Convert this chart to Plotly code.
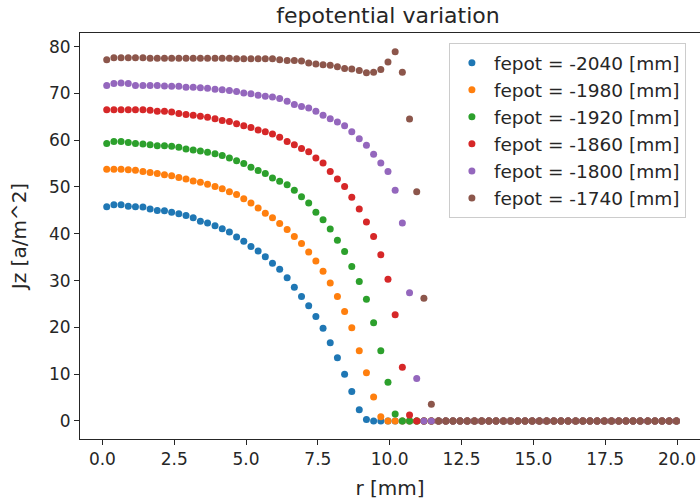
import plotly.graph_objects as go

# radial sample positions [mm]
r_mm = [
    0.15, 0.40, 0.65, 0.90, 1.15, 1.41, 1.66, 1.91, 2.16, 2.41,
    2.66, 2.91, 3.16, 3.41, 3.66, 3.92, 4.17, 4.42, 4.67, 4.92,
    5.17, 5.42, 5.67, 5.92, 6.17, 6.43, 6.68, 6.93, 7.18, 7.43,
    7.68, 7.93, 8.18, 8.43, 8.68, 8.94, 9.19, 9.44, 9.69, 9.94,
    10.19, 10.44, 10.69, 10.94, 11.19, 11.45, 11.70, 11.95, 12.20, 12.45,
    12.70, 12.95, 13.20, 13.45, 13.70, 13.96, 14.21, 14.46, 14.71, 14.96,
    15.21, 15.46, 15.71, 15.96, 16.21, 16.47, 16.72, 16.97, 17.22, 17.47,
    17.72, 17.97, 18.22, 18.47, 18.72, 18.98, 19.23, 19.48, 19.73, 19.98,
]

fepot_labels = [-2040, -1980, -1920, -1860, -1800, -1740]

jz_m2040 = [
    45.8, 46.2, 46.2, 45.9, 45.8, 45.7, 45.3, 45.0, 44.9, 44.6,
    44.3, 43.9, 43.4, 42.7, 42.3, 41.7, 41.1, 40.4, 39.3, 38.4,
    37.3, 36.3, 35.1, 33.7, 32.4, 30.6, 28.6, 26.6, 24.6, 22.3,
    19.8, 16.7, 13.5, 10.0, 6.3, 2.4, 0.3, 0.0, 0.0, 0.0,
    0.0, 0.0, 0.0, 0.0, 0.0, 0.0, 0.0, 0.0, 0.0, 0.0,
    0.0, 0.0, 0.0, 0.0, 0.0, 0.0, 0.0, 0.0, 0.0, 0.0,
    0.0, 0.0, 0.0, 0.0, 0.0, 0.0, 0.0, 0.0, 0.0, 0.0,
    0.0, 0.0, 0.0, 0.0, 0.0, 0.0, 0.0, 0.0, 0.0, 0.0,
]
jz_m1980 = [
    53.8, 53.8, 53.8, 53.7, 53.6, 53.3, 53.1, 52.9, 52.6, 52.4,
    52.0, 51.7, 51.3, 51.0, 50.6, 50.1, 49.6, 49.0, 48.4, 47.5,
    46.6, 45.5, 44.4, 43.4, 42.2, 40.9, 39.4, 37.9, 36.1, 34.2,
    32.0, 29.5, 26.6, 23.4, 19.9, 15.0, 10.3, 5.1, 0.9, 0.0,
    0.0, 0.0, 0.0, 0.0, 0.0, 0.0, 0.0, 0.0, 0.0, 0.0,
    0.0, 0.0, 0.0, 0.0, 0.0, 0.0, 0.0, 0.0, 0.0, 0.0,
    0.0, 0.0, 0.0, 0.0, 0.0, 0.0, 0.0, 0.0, 0.0, 0.0,
    0.0, 0.0, 0.0, 0.0, 0.0, 0.0, 0.0, 0.0, 0.0, 0.0,
]
jz_m1920 = [
    59.3, 59.7, 59.7, 59.5, 59.3, 59.2, 59.0, 58.8, 58.8, 58.7,
    58.5, 58.1, 57.9, 57.7, 57.4, 57.1, 56.7, 56.2, 55.6, 55.0,
    54.2, 53.5, 52.9, 51.9, 51.2, 50.5, 49.3, 47.9, 46.6, 44.6,
    43.0, 41.0, 38.6, 36.2, 33.0, 29.8, 26.0, 21.0, 15.0, 8.3,
    1.5, 0.0, 0.0, 0.0, 0.0, 0.0, 0.0, 0.0, 0.0, 0.0,
    0.0, 0.0, 0.0, 0.0, 0.0, 0.0, 0.0, 0.0, 0.0, 0.0,
    0.0, 0.0, 0.0, 0.0, 0.0, 0.0, 0.0, 0.0, 0.0, 0.0,
    0.0, 0.0, 0.0, 0.0, 0.0, 0.0, 0.0, 0.0, 0.0, 0.0,
]
jz_m1860 = [
    66.5, 66.5, 66.5, 66.5, 66.5, 66.5, 66.4, 66.2, 66.2, 66.0,
    65.7, 65.5, 65.3, 65.1, 64.9, 64.6, 64.2, 64.0, 63.5, 63.1,
    62.7, 62.2, 61.8, 61.3, 60.6, 59.7, 59.0, 58.2, 57.5, 56.2,
    55.1, 53.3, 51.7, 50.1, 47.8, 45.3, 42.5, 39.4, 35.5, 30.3,
    22.7, 11.5, 1.3, 0.0, 0.0, 0.0, 0.0, 0.0, 0.0, 0.0,
    0.0, 0.0, 0.0, 0.0, 0.0, 0.0, 0.0, 0.0, 0.0, 0.0,
    0.0, 0.0, 0.0, 0.0, 0.0, 0.0, 0.0, 0.0, 0.0, 0.0,
    0.0, 0.0, 0.0, 0.0, 0.0, 0.0, 0.0, 0.0, 0.0, 0.0,
]
jz_m1800 = [
    71.7, 72.1, 72.2, 72.1, 71.7, 71.7, 71.7, 71.7, 71.6, 71.5,
    71.5, 71.3, 71.3, 71.2, 71.1, 70.9, 70.8, 70.6, 70.4, 70.1,
    69.9, 69.6, 69.4, 69.2, 68.9, 68.3, 67.6, 67.2, 66.9, 66.2,
    65.3, 64.6, 63.9, 63.1, 61.8, 60.3, 58.9, 57.0, 55.1, 53.3,
    49.3, 42.3, 27.4, 9.1, 0.0, 0.0, 0.0, 0.0, 0.0, 0.0,
    0.0, 0.0, 0.0, 0.0, 0.0, 0.0, 0.0, 0.0, 0.0, 0.0,
    0.0, 0.0, 0.0, 0.0, 0.0, 0.0, 0.0, 0.0, 0.0, 0.0,
    0.0, 0.0, 0.0, 0.0, 0.0, 0.0, 0.0, 0.0, 0.0, 0.0,
]
jz_m1740 = [
    77.2, 77.6, 77.6, 77.6, 77.6, 77.6, 77.5, 77.5, 77.5, 77.5,
    77.5, 77.5, 77.5, 77.5, 77.5, 77.5, 77.5, 77.5, 77.4, 77.4,
    77.4, 77.4, 77.4, 77.4, 77.2, 77.0, 77.0, 76.9, 76.5, 76.3,
    76.1, 76.0, 75.7, 75.3, 75.2, 74.9, 74.4, 74.5, 75.1, 76.7,
    78.9, 74.5, 64.5, 49.0, 26.2, 3.6, 0.0, 0.0, 0.0, 0.0,
    0.0, 0.0, 0.0, 0.0, 0.0, 0.0, 0.0, 0.0, 0.0, 0.0,
    0.0, 0.0, 0.0, 0.0, 0.0, 0.0, 0.0, 0.0, 0.0, 0.0,
    0.0, 0.0, 0.0, 0.0, 0.0, 0.0, 0.0, 0.0, 0.0, 0.0,
]

series = [jz_m2040, jz_m1980, jz_m1920, jz_m1860, jz_m1800, jz_m1740]
colors = ["#1f77b4", "#ff7f0e", "#2ca02c", "#d62728", "#9467bd", "#8c564b"]

x_ticks = [0.0, 2.5, 5.0, 7.5, 10.0, 12.5, 15.0, 17.5, 20.0]
y_ticks = [0, 10, 20, 30, 40, 50, 60, 70, 80]

FONT = "DejaVu Sans"
INK = "#262626"

fig = go.Figure()
for label, jz, color in zip(fepot_labels, series, colors):
    fig.add_trace(go.Scatter(
        x=r_mm, y=jz, mode="markers",
        name=f"fepot = {label} [mm]",
        marker=dict(size=7, color=color, line=dict(width=0)),
    ))

fig.update_layout(
    width=700, height=502,
    margin=dict(l=80, r=0, t=33, b=63),
    paper_bgcolor="white", plot_bgcolor="white",
    font=dict(family=FONT, size=17, color=INK),
    title=dict(text="fepotential variation", font=dict(size=22, color=INK),
               x=388 / 700, xref="container", xanchor="center",
               y=1 - 15 / 502, yref="container", yanchor="middle"),
    legend=dict(x=0.595, y=0.975, xanchor="left", yanchor="top",
                bgcolor="white", bordercolor="#cccccc", borderwidth=1,
                itemwidth=34,
                font=dict(size=18.5, color=INK)),
    showlegend=True,
)
fig.update_xaxes(
    range=[-0.78, 20.80], tickvals=x_ticks,
    ticktext=[f"{v:.1f}" for v in x_ticks],
    ticks="outside", ticklen=5, tickwidth=1, tickcolor=INK,
    showline=True, linecolor=INK, linewidth=1, mirror=True,
    showgrid=False, zeroline=False,
    title=dict(text="r [mm]", standoff=12),
)
fig.update_yaxes(
    range=[-3.85, 82.9], tickvals=y_ticks,
    ticks="outside", ticklen=5, tickwidth=1, tickcolor=INK,
    showline=True, linecolor=INK, linewidth=1, mirror=False,
    showgrid=False, zeroline=False,
    title=dict(text="Jz [a/m^2]", standoff=16),
)

fig.write_html("out.html")
